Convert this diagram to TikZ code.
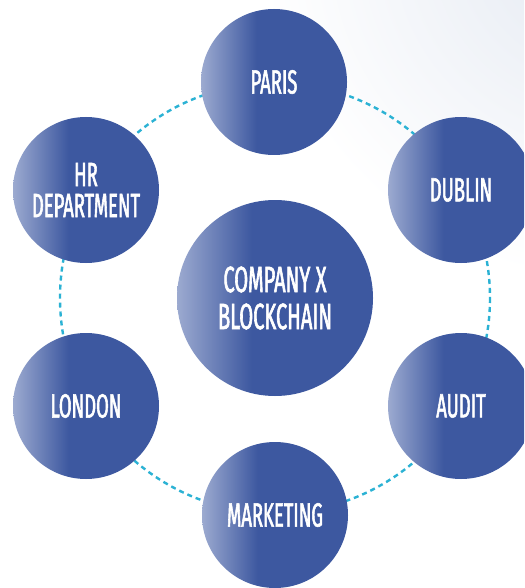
\documentclass[tikz,border=0pt]{standalone}
\usepackage{fontspec}
\newfontfamily\bubblefont[FakeStretch=0.55,FakeBold=1.6]{Fira Sans}
\definecolor{bubbleblue}{RGB}{61,88,160}
\definecolor{bubbleedge}{RGB}{156,170,208}
\definecolor{ringcyan}{RGB}{43,178,212}
\definecolor{hazegray}{RGB}{228,233,242}
\pgfdeclarehorizontalshading{bubbleshade}{100bp}{color(0bp)=(bubbleedge); color(25bp)=(bubbleedge); color(44bp)=(bubbleblue); color(100bp)=(bubbleblue)}
\begin{document}
\begin{tikzpicture}[x=1pt,y=-1pt]
  \tikzstyle{bubble}=[circle,shading=bubbleshade,minimum size=146pt,inner sep=0pt,
    text=white,align=center,font=\bubblefont\fontsize{33.5}{31}\selectfont]
  \tikzstyle{hub}=[bubble,minimum size=196pt,font=\bubblefont\fontsize{36.5}{37}\selectfont]
  \tikzstyle{ring}=[ringcyan,line width=2.4pt,dash pattern=on 5pt off 4pt]
  \useasboundingbox (0,0) rectangle (524,588);
  \clip (0,0) rectangle (524,588);
  \fill[white] (0,0) rectangle (524,588);
  \shade[inner color=hazegray,outer color=white] (600,-60) circle (340);
  \draw[ring] (275,298) circle (215);
  \node[hub] (center) at (275,298) {COMPANY X\\BLOCKCHAIN};
  \node[bubble] (paris) at (274,82) {PARIS};
  \node[bubble] (dublin) at (461,190) {DUBLIN};
  \node[bubble] (audit) at (461,406) {AUDIT};
  \node[bubble] (marketing) at (275,515) {MARKETING};
  \node[bubble] (london) at (86,406) {LONDON};
  \node[bubble] (hr) at (86,190) {HR\\DEPARTMENT};
\end{tikzpicture}
\end{document}
